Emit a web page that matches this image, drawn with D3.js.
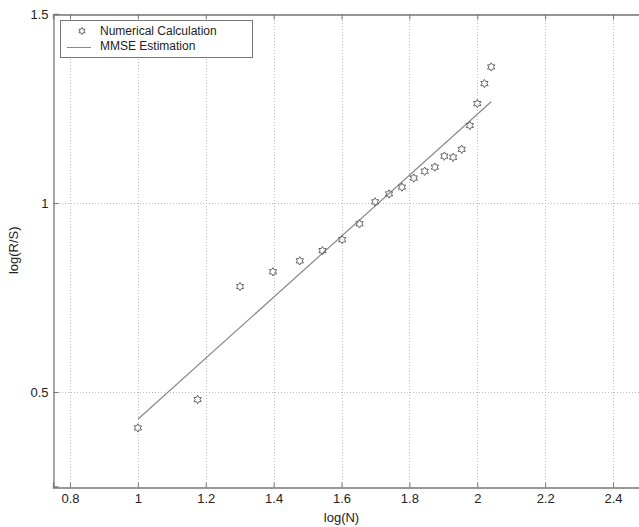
<!DOCTYPE html>
<html><head><meta charset="utf-8">
<script src="https://cdn.jsdelivr.net/npm/d3@7"></script>
<style>body{margin:0;background:#fff;} svg{display:block;font-family:"Liberation Sans",Arial,sans-serif;}</style>
</head><body>
<script>
const logN = [1, 1.176, 1.301, 1.398, 1.477, 1.544, 1.602, 1.653, 1.699, 1.740, 1.778, 1.813, 1.845, 1.875, 1.903, 1.929, 1.954, 1.978, 2.0, 2.021, 2.041];
const logRS = [0.405, 0.48, 0.779, 0.818, 0.847, 0.874, 0.903, 0.945, 1.003, 1.024, 1.042, 1.066, 1.084, 1.095, 1.124, 1.121, 1.142, 1.205, 1.263, 1.316, 1.36];
const fitX = [1, 2.041];
const fitY = [0.428, 1.268];
const xTicks = [0.8, 1, 1.2, 1.4, 1.6, 1.8, 2, 2.2, 2.4];
const yTicks = [0.5, 1, 1.5];
const legendLabels = ["Numerical Calculation", "MMSE Estimation"];

const W = 639, H = 527;
const svg = d3.select("body").append("svg").attr("width", W).attr("height", H);
const x = d3.scaleLinear().domain([0.75, 2.5]).range([53, 647]);
const y = d3.scaleLinear().domain([0.25, 1.5]).range([486.5, 14]);
const axisCol = "#777";

// gridlines
const grid = svg.append("g").attr("stroke", "#bbb").attr("stroke-dasharray", "1,2").attr("stroke-width", 1);
xTicks.forEach(t => grid.append("line").attr("x1", Math.round(x(t)) + 0.5).attr("x2", Math.round(x(t)) + 0.5).attr("y1", y(1.5)).attr("y2", y(0.25)));
yTicks.forEach(t => grid.append("line").attr("y1", Math.round(y(t)) + 0.5).attr("y2", Math.round(y(t)) + 0.5).attr("x1", x(0.75)).attr("x2", x(2.5)));

// axes
const fmt = d => String(d);
const gx = svg.append("g").attr("transform", `translate(0,${Math.round(y(0.25)) + 0.5})`)
  .call(d3.axisBottom(x).tickValues(xTicks).tickFormat(fmt).tickSize(-5).tickPadding(5));
const gxTop = svg.append("g").attr("transform", `translate(0,${Math.round(y(1.5)) + 0.5})`)
  .call(d3.axisTop(x).tickValues(xTicks).tickFormat("").tickSize(-5));
const gy = svg.append("g").attr("transform", `translate(${Math.round(x(0.75)) + 0.5},0)`)
  .call(d3.axisLeft(y).tickValues(yTicks).tickFormat(fmt).tickSize(-5).tickPadding(5));
[gx, gxTop, gy].forEach(g => {
  g.select(".domain").attr("stroke", axisCol).attr("stroke-width", 1.3);
  g.selectAll(".tick line").attr("stroke", axisCol);
  g.selectAll("text").attr("fill", "#222").attr("font-size", 13).attr("font-family", '"Liberation Sans",Arial,sans-serif');
});
gx.selectAll(".tick text").attr("y", 6);

// fit line
svg.append("path")
  .datum(fitX.map((v, i) => [v, fitY[i]]))
  .attr("d", d3.line().x(d => x(d[0])).y(d => y(d[1])))
  .attr("fill", "none").attr("stroke", "#888").attr("stroke-width", 1.2);

// hexagram marker
function hexagram(r) {
  const pts = [];
  for (let i = 0; i < 12; i++) {
    const a = -Math.PI / 2 + i * Math.PI / 6;
    const rr = i % 2 === 0 ? r : r / Math.sqrt(3);
    pts.push([rr * Math.cos(a), rr * Math.sin(a)]);
  }
  return "M" + pts.map(p => p[0].toFixed(2) + "," + p[1].toFixed(2)).join("L") + "Z";
}
svg.append("g").selectAll("path").data(logN.map((v, i) => [v, logRS[i]])).join("path")
  .attr("d", hexagram(4.2))
  .attr("transform", d => `translate(${x(d[0])},${y(d[1])})`)
  .attr("fill", "none").attr("stroke", "#666").attr("stroke-width", 1);

// axis labels
svg.append("text").attr("x", x(1.6)).attr("y", 522).attr("text-anchor", "middle")
  .attr("font-size", 13).attr("fill", "#222").text("log(N)");
svg.append("text").attr("transform", `translate(18,${y(0.875)}) rotate(-90)`).attr("text-anchor", "middle")
  .attr("font-size", 13).attr("fill", "#222").text("log(R/S)");

// legend
const lg = svg.append("g");
lg.append("rect").attr("x", 60.5).attr("y", 20.5).attr("width", 192).attr("height", 37)
  .attr("fill", "#fff").attr("stroke", axisCol).attr("stroke-width", 1);
lg.append("path").attr("d", hexagram(3.5)).attr("transform", "translate(82,31)")
  .attr("fill", "none").attr("stroke", "#666");
lg.append("line").attr("x1", 67).attr("x2", 91).attr("y1", 47.5).attr("y2", 47.5).attr("stroke", "#888");
lg.selectAll("text").data(legendLabels).join("text")
  .attr("x", 100).attr("y", (d, i) => 35 + i * 15).attr("font-size", 12).attr("fill", "#222").text(d => d);
</script>
</body></html>
